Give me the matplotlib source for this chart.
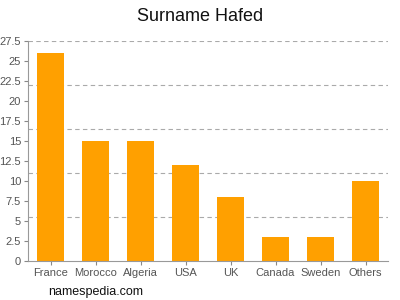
import matplotlib
matplotlib.use("Agg")
import matplotlib.pyplot as plt

categories = ["France", "Morocco", "Algeria", "USA", "UK", "Canada", "Sweden", "Others"]
values = [26, 15, 15, 12, 8, 3, 3, 10]
yticks = [0, 2.5, 5, 7.5, 10, 12.5, 15, 17.5, 20, 22.5, 25, 27.5]
ytick_labels = ["0", "2.5", "5", "7.5", "10", "12.5", "15", "17.5", "20", "22.5", "25", "27.5"]
grid_levels = [5.5, 11, 16.5, 22, 27.5]

plt.rcParams['font.family'] = ['Liberation Sans', 'DejaVu Sans']

fig = plt.figure(figsize=(4, 3), dpi=100)
ax = fig.add_axes([0.07, 0.13, 0.90, 0.733])

x = list(range(len(categories)))
for g in grid_levels:
    ax.axhline(g, color="#aaaaaa", linestyle=(0, (4, 3)), linewidth=0.8, zorder=0)
ax.bar(x, values, width=0.62, color="#FFA000", zorder=2)

ax.set_xlim(-0.5, len(categories) - 0.5)
ax.set_ylim(0, 27.5)
ax.set_xticks(x)
ax.set_xticklabels(categories)
ax.set_yticks(yticks)
ax.set_yticklabels(ytick_labels)
ax.tick_params(axis="both", colors="#888888", labelcolor="#555555", labelsize=8, length=3, width=0.8, pad=2)

for s in ["top", "right"]:
    ax.spines[s].set_visible(False)
for s in ["left", "bottom"]:
    ax.spines[s].set_color("#999999")
    ax.spines[s].set_linewidth(0.8)

fig.text(0.5, 0.945, "Surname Hafed", ha="center", va="center", fontsize=13, color="#111111")
fig.text(0.12, 0.027, "namespedia.com", ha="left", va="center", fontsize=9, color="#111111")

fig.savefig("out.png", dpi=100)
